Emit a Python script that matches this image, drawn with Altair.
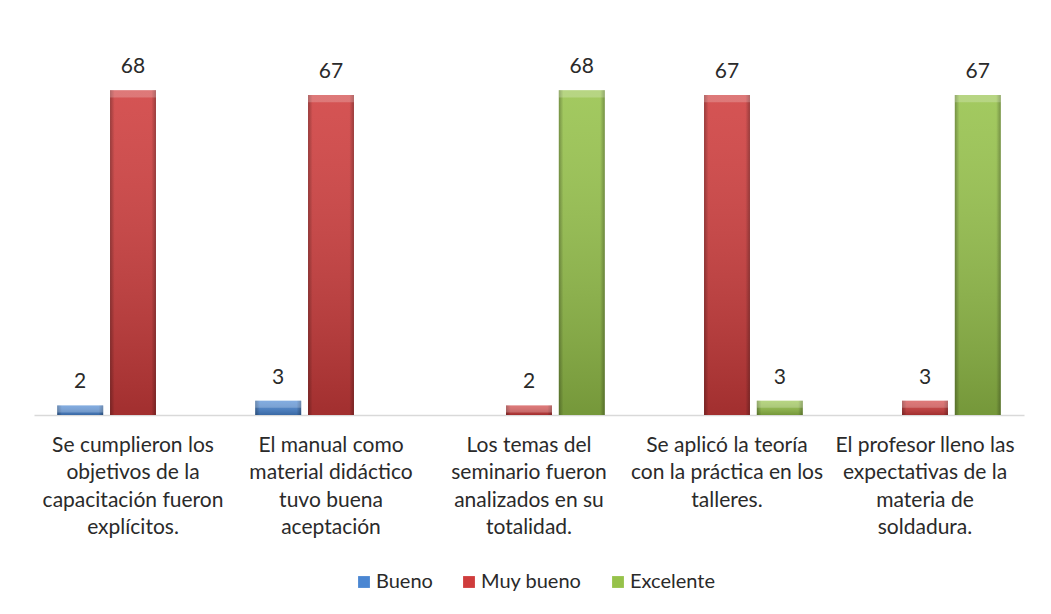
import altair as alt
import pandas as pd

# ---- data ----
category_lines = [
    ["Se cumplieron los", "objetivos de la", "capacitación fueron", "explícitos."],
    ["El manual como", "material didáctico", "tuvo buena", "aceptación"],
    ["Los temas del", "seminario fueron", "analizados en su", "totalidad."],
    ["Se aplicó la teoría", "con la práctica en los", "talleres."],
    ["El profesor lleno las", "expectativas de  la", "materia de", "soldadura."],
]
series = ["Bueno", "Muy bueno", "Excelente"]
bueno = [2, 3, None, None, None]
muy_bueno = [68, 67, 2, 67, 3]
excelente = [None, None, 68, 3, 67]
colors = ["#4A86D2", "#CF3C3C", "#96C24A"]

categories = ["|".join(lines) for lines in category_lines]

rows = []
for s, vals in zip(series, [bueno, muy_bueno, excelente]):
    for c, v in zip(categories, vals):
        if v is not None:
            rows.append({"categoria": c, "serie": s, "valor": v})
df = pd.DataFrame(rows)

FONT = "Lato"
TEXT_COLOR = "#2A2A2A"

x_enc = alt.X(
    "categoria:N",
    sort=categories,
    scale=alt.Scale(paddingInner=0.2, paddingOuter=0.1),
    axis=alt.Axis(
        title=None,
        labelExpr="split(datum.label, '|')",
        labelAngle=0,
        labelFont=FONT,
        labelFontSize=21,
        labelColor=TEXT_COLOR,
        labelLineHeight=27.5,
        labelPadding=19,
        labelLimit=400,
        ticks=False,
        domainColor="#D9D9D9",
        domainWidth=1.5,
        grid=False,
    ),
)
xoff = alt.XOffset(
    "serie:N",
    sort=series,
    scale=alt.Scale(domain=series, paddingInner=0.13, paddingOuter=0.065),
)
y_enc = alt.Y(
    "valor:Q",
    scale=alt.Scale(domain=[0, 80]),
    axis=None,
)

base = alt.Chart(df).encode(x=x_enc, xOffset=xoff)

bars = base.mark_bar().encode(
    y=y_enc,
    color=alt.Color(
        "serie:N",
        sort=series,
        scale=alt.Scale(domain=series, range=colors),
        legend=alt.Legend(
            title=None,
            orient="none",
            legendX=320,
            legendY=539,
            direction="horizontal",
            symbolType="square",
            symbolSize=140,
            symbolStrokeWidth=0,
            labelFont=FONT,
            labelFontSize=20,
            labelColor=TEXT_COLOR,
            columnPadding=26,
            labelOffset=2,
            padding=0,
        ),
    ),
)

shade_v = base.mark_bar(
    fill=alt.Gradient(
        gradient="linear",
        x1=0, x2=0, y1=0, y2=1,
        stops=[
            alt.GradientStop(offset=0, color="rgba(255,255,255,0.12)"),
            alt.GradientStop(offset=1, color="rgba(0,0,0,0.22)"),
        ],
    )
).encode(y=y_enc)

shade_h = base.mark_bar(
    fill=alt.Gradient(
        gradient="linear",
        x1=0, x2=1, y1=0, y2=0,
        stops=[
            alt.GradientStop(offset=0, color="rgba(0,0,0,0.28)"),
            alt.GradientStop(offset=0.1, color="rgba(0,0,0,0)"),
            alt.GradientStop(offset=0.9, color="rgba(0,0,0,0)"),
            alt.GradientStop(offset=1, color="rgba(0,0,0,0.28)"),
        ],
    )
).encode(y=y_enc)

bevel = base.transform_calculate(
    tope="max(0, datum.valor - 1.5)"
).mark_bar(fill="white", opacity=0.22).encode(
    y=y_enc, y2="tope:Q"
)

labels = base.mark_text(
    font=FONT, fontSize=21, color=TEXT_COLOR, baseline="alphabetic", dy=-17
).encode(y=y_enc, text="valor:Q")

chart = (
    alt.layer(bars, shade_v, shade_h, bevel, labels)
    .properties(
        width=990,
        height=382,
        padding={"left": 26, "top": 25, "right": 5, "bottom": 5},
        background="white",
    )
    .configure_view(stroke=None)
)

chart.save("out.html", embed_options={"renderer": "svg", "actions": False})
